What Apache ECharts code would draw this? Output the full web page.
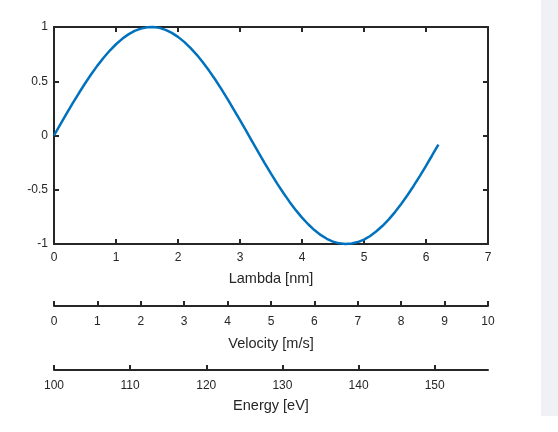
<!DOCTYPE html>
<html>
<head>
<meta charset="utf-8">
<script src="https://cdn.jsdelivr.net/npm/echarts@6/dist/echarts.min.js"></script>
<style>
  html, body { margin: 0; padding: 0; background: #fff; }
  #chart { width: 558px; height: 432px; }
</style>
</head>
<body>
<div id="chart"></div>
<script>
// curve (lambda in nm, amplitude)
var lambda = [0, 0.1, 0.2, 0.3, 0.4, 0.5, 0.6, 0.7, 0.8, 0.9, 1.0, 1.1, 1.2, 1.3, 1.4, 1.5,
  1.6, 1.7, 1.8, 1.9, 2.0, 2.1, 2.2, 2.3, 2.4, 2.5, 2.6, 2.7, 2.8, 2.9, 3.0, 3.1,
  3.2, 3.3, 3.4, 3.5, 3.6, 3.7, 3.8, 3.9, 4.0, 4.1, 4.2, 4.3, 4.4, 4.5, 4.6, 4.7,
  4.8, 4.9, 5.0, 5.1, 5.2, 5.3, 5.4, 5.5, 5.6, 5.7, 5.8, 5.9, 6.0, 6.1, 6.2]
var amplitude = [0.000, 0.100, 0.199, 0.296, 0.389, 0.479, 0.565, 0.644, 0.717, 0.783, 0.841, 0.891, 0.932, 0.964, 0.985, 0.997,
  1.000, 0.992, 0.974, 0.946, 0.909, 0.863, 0.808, 0.746, 0.675, 0.598, 0.516, 0.427, 0.335, 0.239, 0.141, 0.042,
  -0.058, -0.158, -0.256, -0.351, -0.443, -0.530, -0.612, -0.688, -0.757, -0.818, -0.872, -0.916, -0.952, -0.978, -0.994, -1.000,
  -0.996, -0.982, -0.959, -0.926, -0.883, -0.832, -0.773, -0.706, -0.631, -0.551, -0.465, -0.374, -0.279, -0.182, -0.083]

var lambdaRange = [0, 7]
var ampRange = [-1, 1]
var velocityRange = [0, 10]
var energyRange = [100, 157]
var energyTicks = [100, 110, 120, 130, 140, 150]

var ink = '#262626'
var font = 'Liberation Sans, Arial, sans-serif'

function axisBase(extra) {
  var a = {
    axisLine: { show: true, onZero: false, lineStyle: { color: ink, width: 2 } },
    axisTick: { show: true, inside: true, length: 5, lineStyle: { color: ink, width: 2 } },
    axisLabel: { color: ink, fontSize: 12, fontFamily: font, margin: 8 },
    splitLine: { show: false },
    nameTextStyle: { color: ink, fontSize: 14.5, fontFamily: font },
    nameLocation: 'middle'
  }
  for (var k in extra) a[k] = extra[k]
  return a
}

var points = lambda.map(function (x, i) { return [x, amplitude[i]] })

var myChart = echarts.init(document.getElementById('chart'))
var option = {
  animation: false,
  backgroundColor: '#fff',
  graphic: [{
    type: 'rect',
    shape: { x: 541, y: 0, width: 17, height: 416 },
    style: { fill: '#f0f1f4' },
    z: -1
  }],
  grid: [
    { left: 54, top: 27, width: 434, height: 217 },
    { left: 54, top: 300, width: 434, height: 6 },
    { left: 54, top: 364, width: 434, height: 6 }
  ],
  xAxis: [
    axisBase({ type: 'value', gridIndex: 0, position: 'bottom', min: lambdaRange[0], max: lambdaRange[1], interval: 1,
      name: 'Lambda [nm]', nameGap: 27 }),
    axisBase({ type: 'value', gridIndex: 0, position: 'top', min: lambdaRange[0], max: lambdaRange[1], interval: 1,
      axisLabel: { show: false } }),
    axisBase({ type: 'value', gridIndex: 1, position: 'bottom', min: velocityRange[0], max: velocityRange[1], interval: 1,
      name: 'Velocity [m/s]', nameGap: 30,
      axisLabel: { color: ink, fontSize: 12, fontFamily: font, margin: 10 } }),
    axisBase({ type: 'value', gridIndex: 2, position: 'bottom', min: energyRange[0], max: energyRange[1], interval: 10,
      name: 'Energy [eV]', nameGap: 28,
      axisTick: { show: true, inside: true, length: 5, customValues: energyTicks, lineStyle: { color: ink, width: 2 } },
      axisLabel: { color: ink, fontSize: 12, fontFamily: font, margin: 10, customValues: energyTicks } })
  ],
  yAxis: [
    axisBase({ type: 'value', gridIndex: 0, position: 'left', min: ampRange[0], max: ampRange[1], interval: 0.5,
      axisLabel: { color: ink, fontSize: 12, fontFamily: font, margin: 6 } }),
    axisBase({ type: 'value', gridIndex: 0, position: 'right', min: ampRange[0], max: ampRange[1], interval: 0.5,
      axisLabel: { show: false } }),
    { type: 'value', gridIndex: 1, show: false, min: 0, max: 1 },
    { type: 'value', gridIndex: 2, show: false, min: 0, max: 1 }
  ],
  series: [{
    type: 'line',
    xAxisIndex: 0,
    yAxisIndex: 0,
    data: points,
    showSymbol: false,
    smooth: false,
    clip: false,
    lineStyle: { color: '#0072BD', width: 2.5 },
    z: 1
  }]
}
myChart.setOption(option)
</script>
</body>
</html>
